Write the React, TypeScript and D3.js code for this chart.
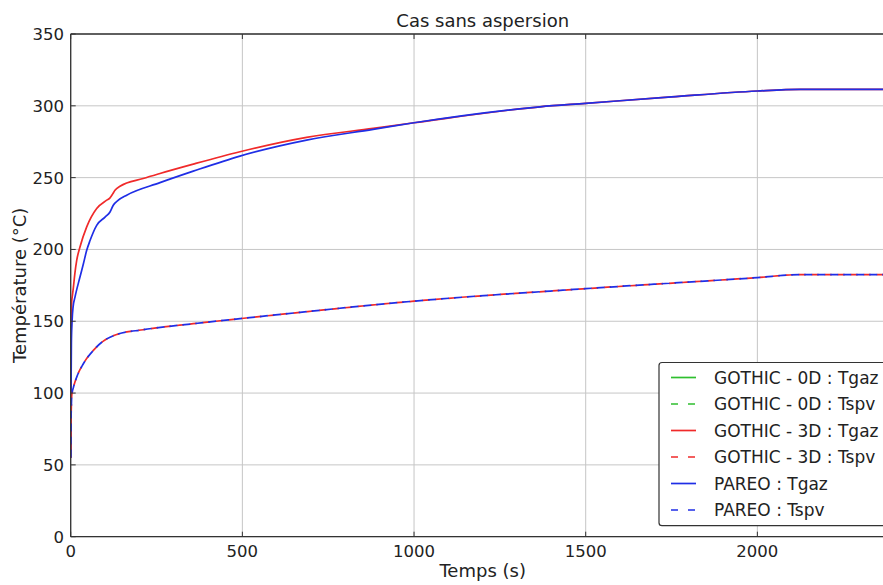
import React from "react";
import * as d3 from "d3";

// GOTHIC - 3D : Tgaz
const g3dTgazT = [0, 1, 2, 3, 5, 7.6, 12, 17.5, 27, 46.6, 75.7, 105, 114.5, 122, 129, 143.6, 211, 260, 357, 493, 687, 881, 1000, 1367, 1500, 1750, 2000, 2125, 2400];
const g3dTgazV = [55, 130, 155, 164, 168, 173, 183, 192.4, 201.7, 215.7, 228.5, 234.3, 235.9, 238.5, 241.2, 244, 249.4, 252.9, 259.4, 268, 278, 284.3, 288.2, 299.3, 301.7, 306.2, 310.3, 311.4, 311.4];

// PAREO : Tgaz
const pareoTgazT = [0, 1, 2, 4, 7, 12.5, 27, 37, 46.6, 56, 75.7, 100, 114.5, 124, 138.7, 163, 260, 357, 493, 687, 881, 1000, 1367, 1500, 1750, 2000, 2125, 2400];
const pareoTgazV = [55, 100, 135, 150, 160, 166.8, 180.8, 190, 199.4, 206, 216.8, 222.5, 226.1, 230.8, 234.3, 237.8, 246.5, 254.5, 265, 276.1, 283.6, 288.2, 299.3, 301.7, 306.2, 310.3, 311.4, 311.4];

// GOTHIC - 3D : Tspv
const g3dTspvT = [0, 1, 2, 3, 8, 17.5, 36.8, 65.9, 95, 134, 211, 357, 493, 668, 1000, 1500, 2000, 2125, 2400];
const g3dTspvV = [55, 80, 92, 98.3, 104, 111.1, 120.4, 129.7, 136.2, 140.8, 144.1, 148.3, 151.8, 156.2, 164, 172.7, 180.4, 182.5, 182.5];

// PAREO : Tspv
const pareoTspvT = [0, 1, 2, 3, 8, 17.5, 36.8, 65.9, 95, 134, 211, 357, 493, 668, 1000, 1500, 2000, 2125, 2400];
const pareoTspvV = [55, 80, 92, 98.3, 104, 111.1, 120.4, 129.7, 136.2, 140.8, 144.1, 148.3, 151.8, 156.2, 164, 172.7, 180.4, 182.5, 182.5];

const xTicks = [0, 500, 1000, 1500, 2000];
const yTicks = [0, 50, 100, 150, 200, 250, 300, 350];

const legendLabels = [
  "GOTHIC - 0D : Tgaz",
  "GOTHIC - 0D : Tspv",
  "GOTHIC - 3D : Tgaz",
  "GOTHIC - 3D : Tspv",
  "PAREO : Tgaz",
  "PAREO : Tspv",
];

const GREEN = "#2fbf2f";
const RED = "#f02a2a";
const BLUE = "#1f2ee6";
const legendColors = [GREEN, GREEN, RED, RED, BLUE, BLUE];
const legendDashed = [false, true, false, true, false, true];

const W = 883;
const H = 585;
const M = { left: 70.7, top: 34, right: 894.7, bottom: 536.7 };
const FONT = "DejaVu Sans, Verdana, sans-serif";

export default function App() {
  const x = d3.scaleLinear().domain([0, 2400]).range([M.left, M.right]);
  const y = d3.scaleLinear().domain([0, 350]).range([M.bottom, M.top]);

  const mk = (ts: number[], vs: number[]) =>
    d3
      .line<number>()
      .x((_, i) => x(ts[i]))
      .y((v) => y(v))
      .curve(d3.curveMonotoneX)(vs) as string;

  const series = [
    { d: mk(g3dTgazT, g3dTgazV), color: RED, dash: undefined, off: 0 },
    { d: mk(pareoTgazT, pareoTgazV), color: BLUE, dash: undefined, off: 0 },
    { d: mk(g3dTspvT, g3dTspvV), color: RED, dash: "7,6", off: 5.5 },
    { d: mk(pareoTspvT, pareoTspvV), color: BLUE, dash: "8,5", off: 0 },
  ];

  const legX = 659;
  const legTop = 362.5;
  const legBottom = 525.7;
  const rowY = (i: number) => 377.5 + i * 26.5;

  return (
    <svg
      width={W}
      height={H}
      style={{ position: "absolute", left: 0, top: 0, background: "#fff" }}
      fontFamily={FONT}
    >
      <defs>
        <clipPath id="plotclip">
          <rect x={M.left} y={M.top} width={M.right - M.left} height={M.bottom - M.top} />
        </clipPath>
      </defs>
      <rect x={0} y={0} width={W} height={H} fill="#fff" />
      {/* grid */}
      {xTicks.map((t) => (
        <line key={"gx" + t} x1={x(t)} x2={x(t)} y1={M.top} y2={M.bottom} stroke="#c6c6c6" strokeWidth={1} />
      ))}
      {yTicks.map((t) => (
        <line key={"gy" + t} x1={M.left} x2={M.right} y1={y(t)} y2={y(t)} stroke="#c6c6c6" strokeWidth={1} />
      ))}
      {/* lines */}
      <g clipPath="url(#plotclip)">
        {series.map((s, i) => (
          <path
            key={i}
            d={s.d}
            fill="none"
            stroke={s.color}
            strokeWidth={1.7}
            strokeDasharray={s.dash}
            strokeDashoffset={s.off}
          />
        ))}
      </g>
      {/* spines */}
      <line x1={M.left} x2={M.left} y1={M.top} y2={M.bottom} stroke="#333" strokeWidth={1.3} />
      <line x1={M.left} x2={M.right} y1={M.bottom} y2={M.bottom} stroke="#333" strokeWidth={1.3} />
      <line x1={M.left} x2={M.right} y1={M.top} y2={M.top} stroke="#333" strokeWidth={1.3} />
      {/* ticks */}
      {xTicks.map((t) => (
        <g key={"tx" + t}>
          <line x1={x(t)} x2={x(t)} y1={M.bottom} y2={M.bottom - 5} stroke="#333" strokeWidth={1} />
          <line x1={x(t)} x2={x(t)} y1={M.top} y2={M.top + 5} stroke="#333" strokeWidth={1} />
          <text x={x(t)} y={557} textAnchor="middle" fontSize={16.5} fill="#222">
            {t}
          </text>
        </g>
      ))}
      {yTicks.map((t) => (
        <g key={"ty" + t}>
          <line x1={M.left} x2={M.left + 5} y1={y(t)} y2={y(t)} stroke="#333" strokeWidth={1} />
          <text x={64} y={y(t)} dy="0.36em" textAnchor="end" fontSize={16.5} fill="#222">
            {t}
          </text>
        </g>
      ))}
      {/* title and labels */}
      <text x={(M.left + M.right) / 2} y={27} textAnchor="middle" fontSize={18} fill="#222">
        Cas sans aspersion
      </text>
      <text x={(M.left + M.right) / 2} y={577} textAnchor="middle" fontSize={18} fill="#222">
        Temps (s)
      </text>
      <text
        transform={`translate(26, ${(M.top + M.bottom) / 2}) rotate(-90)`}
        textAnchor="middle"
        fontSize={18}
        fill="#222"
      >
        Température (°C)
      </text>
      {/* legend */}
      <rect
        x={legX}
        y={legTop}
        width={260}
        height={legBottom - legTop}
        rx={3}
        ry={3}
        fill="#fff"
        stroke="#333"
        strokeWidth={1.2}
      />
      {legendLabels.map((lab, i) => (
        <g key={lab}>
          <line
            x1={671}
            x2={696}
            y1={rowY(i)}
            y2={rowY(i)}
            stroke={legendColors[i]}
            strokeWidth={1.7}
            strokeDasharray={legendDashed[i] ? "7,10" : undefined}
          />
          <text x={714} y={rowY(i)} dy="0.36em" fontSize={17} fill="#222">
            {lab}
          </text>
        </g>
      ))}
    </svg>
  );
}
